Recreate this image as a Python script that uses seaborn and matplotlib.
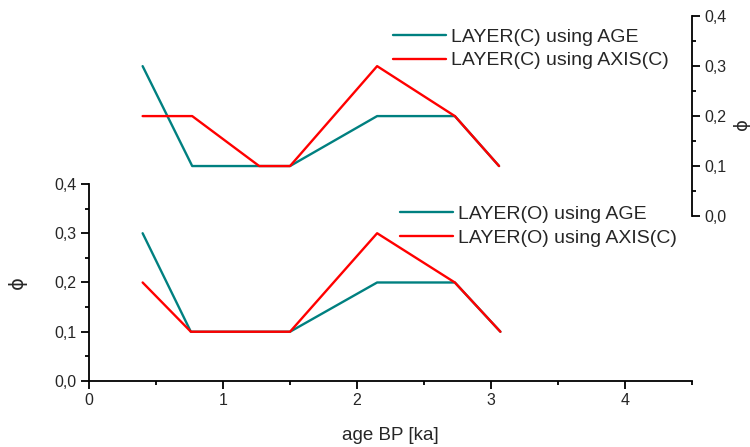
import matplotlib
matplotlib.use("Agg")
import matplotlib.pyplot as plt
from matplotlib.ticker import MultipleLocator, FuncFormatter
import seaborn as sns
import pandas as pd

# Porosity profiles, layer C (upper panel)
age_c_age = [0.40, 0.77, 1.27, 1.50, 2.15, 2.73, 3.06]
phi_c_age = [0.3, 0.1, 0.1, 0.1, 0.2, 0.2, 0.1]
age_c_axis = [0.40, 0.77, 1.27, 1.50, 2.15, 2.73, 3.06]
phi_c_axis = [0.2, 0.2, 0.1, 0.1, 0.3, 0.2, 0.1]

# Porosity profiles, layer O (lower panel)
age_o_age = [0.40, 0.76, 1.50, 2.15, 2.73, 3.07]
phi_o_age = [0.3, 0.1, 0.1, 0.2, 0.2, 0.1]
age_o_axis = [0.40, 0.76, 1.50, 2.15, 2.73, 3.07]
phi_o_axis = [0.2, 0.1, 0.1, 0.3, 0.2, 0.1]

labels_c = ["LAYER(C) using AGE", "LAYER(C) using AXIS(C)"]
labels_o = ["LAYER(O) using AGE", "LAYER(O) using AXIS(C)"]
x_label = "age BP [ka]"
y_label = "\u03d5"

TEAL = "#008080"
RED = "#ff0000"

sns.set_style("ticks")
plt.rcParams["font.family"] = ["Liberation Sans", "DejaVu Sans"]

def frame(xs, ys, label):
    return pd.DataFrame({"age": xs, "phi": ys, "series": label})

fig = plt.figure(figsize=(7.5, 4.47), dpi=100)
ax_lo = fig.add_axes([0.1187, 0.1477, 0.804, 0.4407])
ax_up = fig.add_axes([0.1187, 0.5168, 0.804, 0.447])

comma = FuncFormatter(lambda v, p: f"{v:.1f}".replace(".", ","))
legend_kw = dict(frameon=False, loc="upper left", fontsize=14,
                 handlelength=2.7, handletextpad=0.3, labelspacing=0.32,
                 borderpad=0, borderaxespad=0)

# lower panel
df_o = pd.concat([frame(age_o_age, phi_o_age, labels_o[0]),
                  frame(age_o_axis, phi_o_axis, labels_o[1])])
sns.lineplot(data=df_o, x="age", y="phi", hue="series", sort=False,
             palette=[TEAL, RED], linewidth=1.7, ax=ax_lo, estimator=None)
ax_lo.set_xlim(0, 4.5)
ax_lo.set_ylim(0, 0.4)
ax_lo.xaxis.set_major_locator(MultipleLocator(1))
ax_lo.xaxis.set_minor_locator(MultipleLocator(0.5))
ax_lo.yaxis.set_major_locator(MultipleLocator(0.1))
ax_lo.yaxis.set_minor_locator(MultipleLocator(0.05))
ax_lo.yaxis.set_major_formatter(comma)
ax_lo.spines[["top", "right"]].set_visible(False)
for s in ("left", "bottom"):
    ax_lo.spines[s].set_linewidth(1.3)
    ax_lo.spines[s].set_color("black")
ax_lo.tick_params(which="major", length=6, width=1.3, labelsize=11.5, color="black", pad=3)
ax_lo.tick_params(which="minor", length=3, width=1.3, color="black")
ax_lo.set_xlabel(x_label, fontsize=13.5, labelpad=13)
ax_lo.set_ylabel(y_label, fontsize=14, family=["DejaVu Sans"], labelpad=20)
leg = ax_lo.legend(bbox_to_anchor=(400 / 750, 1 - 205.5 / 447),
                   bbox_transform=fig.transFigure, **legend_kw)
for h in leg.get_lines():
    h.set_linewidth(1.7)

# upper panel: right-hand axis only
df_c = pd.concat([frame(age_c_age, phi_c_age, labels_c[0]),
                  frame(age_c_axis, phi_c_axis, labels_c[1])])
sns.lineplot(data=df_c, x="age", y="phi", hue="series", sort=False,
             palette=[TEAL, RED], linewidth=1.7, ax=ax_up, estimator=None)
ax_up.patch.set_alpha(0)
ax_up.set_xlim(0, 4.5)
ax_up.set_ylim(0, 0.4)
ax_up.spines[["top", "left", "bottom"]].set_visible(False)
ax_up.spines["right"].set_linewidth(1.3)
ax_up.spines["right"].set_color("black")
ax_up.set_xticks([])
ax_up.set_xlabel("")
ax_up.yaxis.tick_right()
ax_up.yaxis.set_major_locator(MultipleLocator(0.1))
ax_up.yaxis.set_minor_locator(MultipleLocator(0.05))
ax_up.yaxis.set_major_formatter(comma)
ax_up.tick_params(axis="y", which="major", length=6, width=1.3, labelsize=11.5,
                  color="black", pad=3, left=False, right=True)
ax_up.tick_params(axis="y", which="minor", length=3, width=1.3, color="black",
                  left=False, right=True)
ax_up.set_ylabel("")
fig.text(742 / 750, 1 - 124 / 447, y_label, fontsize=13, family=["DejaVu Sans"],
         rotation=90, ha="center", va="center")
leg2 = ax_up.legend(bbox_to_anchor=(393 / 750, 1 - 28 / 447),
                    bbox_transform=fig.transFigure, **legend_kw)
for h in leg2.get_lines():
    h.set_linewidth(1.7)

fig.savefig("out.png", dpi=100)
